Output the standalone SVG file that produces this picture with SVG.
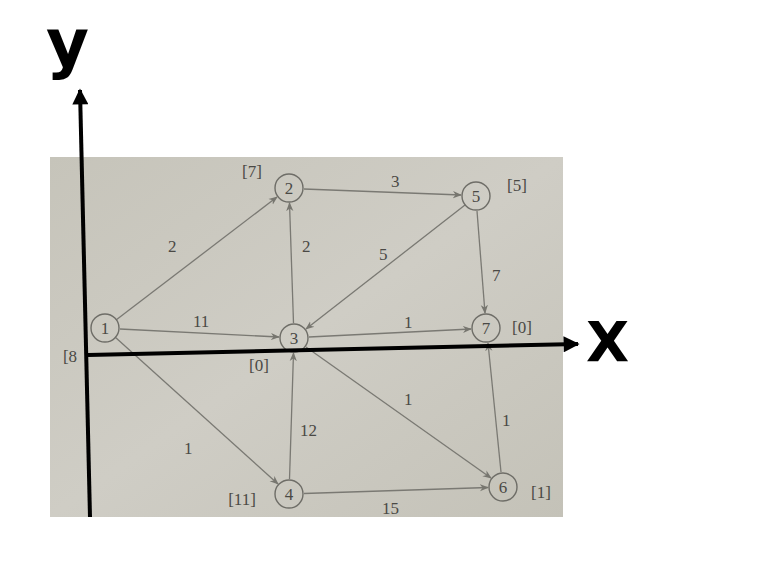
<svg xmlns="http://www.w3.org/2000/svg" width="757" height="561" viewBox="0 0 757 561">
<defs>
<linearGradient id="bg" x1="0" y1="0" x2="1" y2="1">
<stop offset="0" stop-color="#c6c4ba"/>
<stop offset="0.5" stop-color="#cfcdc5"/>
<stop offset="1" stop-color="#c4c2b8"/>
</linearGradient>
<marker id="ah" viewBox="0 0 10 10" refX="9" refY="5" markerWidth="9" markerHeight="9" markerUnits="userSpaceOnUse" orient="auto">
<path d="M0,1 L10,5 L0,9 L3,5 Z" fill="#77766f"/>
</marker>
<marker id="axh" viewBox="0 0 10 10" refX="9" refY="5" markerWidth="18" markerHeight="16" markerUnits="userSpaceOnUse" orient="auto">
<path d="M0,0 L10,5 L0,10 Z" fill="#000"/>
</marker>
</defs>
<style>
.node circle{fill:none;stroke:#6e6d67;stroke-width:1.4}
.node text,.lbl{font-family:"Liberation Serif",serif;font-size:17px;fill:#4a4945}
.node text{text-anchor:middle}
#connectors line{stroke:#7a7973;stroke-width:1.3;marker-end:url(#ah)}
.axis{stroke:#000;stroke-width:4;fill:none;marker-end:url(#axh)}
.hand{font-family:"DejaVu Sans",sans-serif;font-weight:bold;fill:#000}
</style>
<rect width="757" height="561" fill="#fff"/>
<rect x="50" y="157" width="513" height="360" fill="url(#bg)"/>
<g id="connectors">
<line x1="116" y1="320" x2="277" y2="197"/>
<line x1="120" y1="329" x2="279" y2="337"/>
<line x1="115" y1="337" x2="278" y2="484"/>
<line x1="293.5" y1="323" x2="289.5" y2="203"/>
<line x1="304" y1="189" x2="461" y2="195"/>
<line x1="465" y1="205" x2="306" y2="329"/>
<line x1="477" y1="211" x2="485" y2="313"/>
<line x1="309" y1="337" x2="471" y2="329"/>
<line x1="306" y1="347" x2="491" y2="478"/>
<line x1="289.5" y1="479" x2="293.5" y2="353"/>
<line x1="304" y1="493.5" x2="488" y2="487.5"/>
<line x1="501" y1="472" x2="488" y2="343"/>
</g>
<g id="edge-labels">
<text class="lbl" x="168" y="252">2</text>
<text class="lbl" x="193" y="327">11</text>
<text class="lbl" x="302" y="252">2</text>
<text class="lbl" x="391" y="187">3</text>
<text class="lbl" x="379" y="260">5</text>
<text class="lbl" x="492" y="281">7</text>
<text class="lbl" x="404" y="328">1</text>
<text class="lbl" x="404" y="405">1</text>
<text class="lbl" x="300" y="436">12</text>
<text class="lbl" x="184" y="454">1</text>
<text class="lbl" x="502" y="426">1</text>
<text class="lbl" x="382" y="514">15</text>
</g>
<g id="node1" class="node"><circle cx="105" cy="328" r="14"/><text x="105" y="334">1</text><text x="70" y="362">[8</text></g>
<g id="node2" class="node"><circle cx="289" cy="188" r="14"/><text x="289" y="194">2</text><text x="252" y="177">[7]</text></g>
<g id="node3" class="node"><circle cx="294" cy="338" r="14"/><text x="294" y="344">3</text><text x="259" y="371">[0]</text></g>
<g id="node4" class="node"><circle cx="289" cy="494" r="14"/><text x="289" y="500">4</text><text x="242" y="505">[11]</text></g>
<g id="node5" class="node"><circle cx="476" cy="196" r="14"/><text x="476" y="202">5</text><text x="517" y="191">[5]</text></g>
<g id="node6" class="node"><circle cx="503" cy="487" r="14"/><text x="503" y="493">6</text><text x="541" y="498">[1]</text></g>
<g id="node7" class="node"><circle cx="486" cy="328" r="14"/><text x="486" y="334">7</text><text x="522" y="333">[0]</text></g>
<g id="axes">
<line class="axis" x1="90" y1="517" x2="80" y2="90"/>
<line class="axis" x1="88" y1="355" x2="578" y2="344"/>
<text class="hand" x="46" y="66" font-size="66">y</text>
<text class="hand" x="586" y="361" font-size="56">X</text>
</g>
</svg>
